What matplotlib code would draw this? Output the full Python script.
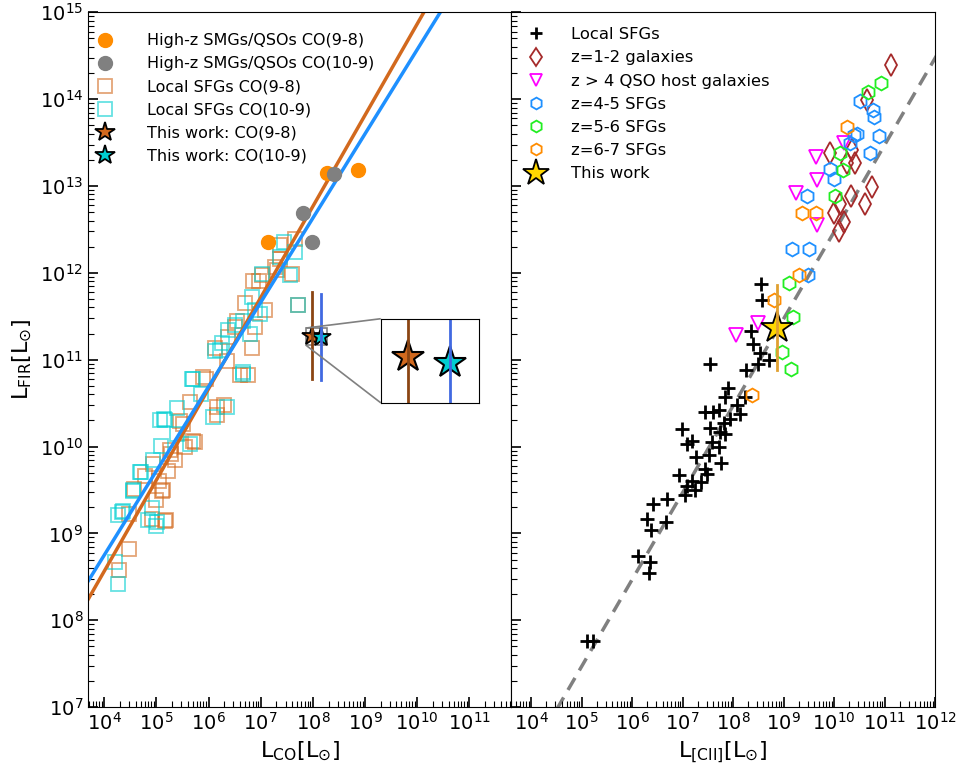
import numpy as np
import matplotlib
matplotlib.use("Agg")
import matplotlib.pyplot as plt
from matplotlib.ticker import LogLocator, NullFormatter
from mpl_toolkits.axes_grid1.inset_locator import mark_inset

# ---------------- left panel data (log10 L) ----------------
hiz98_logco = [7.14, 8.27, 8.87]
hiz98_logfir = [12.35, 13.15, 13.18]
hiz109_logco = [8.41, 7.82, 7.99]
hiz109_logfir = [13.14, 12.69, 12.35]

loc98_logco = [4.28, 4.47, 4.47, 4.58, 4.79, 4.91, 4.94, 4.99, 5.10, 5.16, 5.19, 5.23,
               5.29, 5.12, 5.26, 5.46, 5.52, 5.65, 5.71, 5.74, 5.90, 5.95, 6.16, 6.16,
               6.29, 6.35, 6.54, 6.61, 6.76, 6.70, 6.89, 6.83, 6.13, 6.38, 6.86, 7.02,
               7.08, 7.28, 7.31, 7.37, 7.37, 7.60, 7.66, 7.72, 6.96, 6.51, 5.35, 5.55, 5.05]
loc98_logfir = [8.58, 8.82, 9.22, 9.51, 9.66, 9.17, 9.80, 9.39, 9.49, 9.14, 9.15, 9.72,
                9.92, 9.50, 9.96, 10.30, 10.26, 10.51, 10.07, 10.05, 10.80, 10.78, 10.36, 10.46,
                10.48, 10.99, 11.45, 10.82, 10.82, 11.65, 11.38, 11.13, 11.13, 11.26, 11.91, 11.97,
                11.57, 12.07, 12.03, 12.16, 12.32, 11.99, 12.39, 11.63, 11.91, 11.38, 9.85, 10.00, 9.60]

loc109_logco = [4.20, 4.26, 4.27, 4.34, 4.36, 4.55, 4.56, 4.69, 4.71, 4.83, 4.91, 4.94,
                5.00, 5.01, 5.09, 5.07, 5.14, 5.17, 5.39, 5.65, 5.68, 5.71, 6.09, 6.22,
                6.25, 6.35, 6.38, 6.67, 6.67, 6.67, 6.83, 6.89, 6.99, 7.02, 7.37, 7.56,
                7.66, 7.72, 7.45, 6.80, 5.85, 5.40, 6.51, 6.13]
loc109_logfir = [8.67, 8.42, 9.21, 9.25, 9.26, 9.49, 9.50, 9.71, 9.71, 9.15, 9.29, 9.84,
                 9.09, 9.13, 10.01, 10.31, 10.32, 10.31, 10.44, 10.03, 10.78, 10.78, 10.34, 11.11,
                 11.19, 10.46, 11.34, 10.86, 11.45, 10.83, 11.72, 11.57, 11.53, 11.99, 12.18, 11.97,
                 12.24, 11.63, 12.35, 11.30, 10.60, 10.15, 11.40, 11.10]

tw98_logco, tw98_logfir = 7.98, 11.275
tw109_logco, tw109_logfir = 8.15, 11.26
tw98_logfir_lo, tw98_logfir_hi = 10.78, 11.78
tw109_logfir_lo, tw109_logfir_hi = 10.77, 11.76

# fitted relations: log LFIR = a * log LCO + b
fit98 = (1.05, 4.365)
fit109 = (0.97, 4.87)

# ---------------- right panel data (log10 L) ----------------
sfg_logcii = [8.55, 8.58, 8.36, 8.40, 8.53, 8.72, 8.49, 8.25, 7.54, 7.89, 7.84, 8.24,
              8.07, 8.14, 7.45, 7.61, 7.73, 7.93, 7.81, 7.54, 7.74, 7.84, 6.98, 7.18,
              7.08, 7.58, 7.73, 7.53, 7.27, 7.76, 7.45, 7.48, 6.92, 7.18, 7.08, 7.36,
              7.25, 7.05, 6.69, 6.41, 6.30, 6.67, 6.38, 6.11, 6.36, 6.34, 5.10, 5.22]
sfg_logfir = [11.87, 11.69, 11.33, 11.18, 11.08, 11.00, 10.95, 10.88, 10.95, 10.68, 10.57, 10.57,
              10.48, 10.38, 10.40, 10.40, 10.42, 10.32, 10.27, 10.21, 10.17, 10.15, 10.20, 10.06,
              10.03, 10.05, 9.99, 9.90, 9.88, 9.81, 9.74, 9.69, 9.67, 9.60, 9.55, 9.59,
              9.50, 9.44, 9.40, 9.34, 9.17, 9.13, 9.04, 8.74, 8.67, 8.55, 7.76, 7.76]

z12_logcii = [11.12, 10.66, 9.91, 10.35, 10.42, 10.25, 10.75, 10.34, 10.61, 10.12, 9.99, 10.19, 10.10]
z12_logfir = [14.39, 13.99, 13.38, 13.41, 13.26, 13.26, 12.99, 12.89, 12.79, 12.79, 12.69, 12.58, 12.48]

qso_logcii = [9.64, 9.66, 9.24, 9.67, 10.20, 8.49, 8.05]
qso_logfir = [13.33, 13.07, 12.92, 12.55, 13.49, 11.42, 11.28]

z45_logcii = [10.51, 10.78, 10.79, 10.89, 10.40, 10.45, 10.32, 10.71, 9.92, 10.00, 9.47, 9.16, 9.50, 9.49]
z45_logfir = [13.98, 13.88, 13.79, 13.58, 13.59, 13.60, 13.49, 13.38, 13.19, 13.08, 12.88, 12.28, 12.28, 11.98]

z56_logcii = [10.94, 10.67, 10.12, 10.18, 10.01, 9.10, 9.18, 8.96, 9.14]
z56_logfir = [14.18, 14.08, 13.38, 13.18, 12.89, 11.88, 11.49, 11.09, 10.89]

z67_logcii = [10.25, 9.36, 9.64, 9.31, 8.81, 8.38]
z67_logfir = [13.68, 12.69, 12.69, 11.98, 11.69, 10.59]

tw_logcii, tw_logfir = 8.87, 11.37
tw_logfir_lo, tw_logfir_hi = 10.88, 11.86

# local relation: log LFIR = log LCII + offset
cii_fit = (1.0, 2.47)

# tick decades
left_xdec = range(4, 12)
right_xdec = range(4, 13)
ydec = range(7, 16)


def p(v):
    return 10 ** np.asarray(v, dtype=float)


fig = plt.figure(figsize=(9.57, 7.67), dpi=100)
ax1 = fig.add_axes([0.092, 0.078, 0.442, 0.906])
ax2 = fig.add_axes([0.534, 0.078, 0.443, 0.906], sharey=ax1)

# ---- left panel ----
ax1.plot(p(hiz98_logco), p(hiz98_logfir), 'o', color='darkorange', ms=10, ls='none',
         label='High-z SMGs/QSOs CO(9-8)', zorder=3)
ax1.plot(p(hiz109_logco), p(hiz109_logfir), 'o', color='grey', ms=10, ls='none',
         label='High-z SMGs/QSOs CO(10-9)', zorder=3)
ax1.plot(p(loc98_logco), p(loc98_logfir), 's', mfc='none', mec='#D2691E', alpha=0.6,
         ms=10, mew=1.3, ls='none', label='Local SFGs CO(9-8)')
ax1.plot(p(loc109_logco), p(loc109_logfir), 's', mfc='none', mec='#00CED1', alpha=0.6,
         ms=10, mew=1.3, ls='none', label='Local SFGs CO(10-9)')

xx = np.linspace(3.5, 12, 50)
ax1.plot(p(xx), p(fit98[0] * xx + fit98[1]), color='#D2691E', lw=2.5, zorder=2)
ax1.plot(p(xx), p(fit109[0] * xx + fit109[1]), color='#1E90FF', lw=2.5, zorder=2)

ax1.plot(p(tw98_logco), p(tw98_logfir), '*', color='#D2691E', mec='k', mew=1.3, ms=15,
         ls='none', label='This work: CO(9-8)', zorder=4)
ax1.plot(p(tw109_logco), p(tw109_logfir), '*', color='#00CED1', mec='k', mew=1.3, ms=15,
         ls='none', label='This work: CO(10-9)', zorder=4)
ax1.plot([p(tw98_logco)] * 2, [p(tw98_logfir_lo), p(tw98_logfir_hi)], color='#8B4513', lw=2, zorder=5)
ax1.plot([p(tw109_logco)] * 2, [p(tw109_logfir_lo), p(tw109_logfir_hi)], color='#4169E1', lw=2, zorder=5)

ax1.set_xscale('log')
ax1.set_yscale('log')
ax1.set_xlim(10 ** 3.69, 10 ** 11.8)
ax1.set_ylim(1e7, 1e15)
ax1.set_xticks([10.0 ** k for k in left_xdec])
ax1.set_xlabel(r'$\mathrm{L_{CO}[L_{\odot}]}$', fontsize=16)
ax1.set_ylabel(r'$\mathrm{L_{FIR}[L_{\odot}]}$', fontsize=16)
ax1.legend(loc='upper left', bbox_to_anchor=(-0.003, 0.979), borderaxespad=0,
           frameon=False, fontsize=11.5, handlelength=1.5, handletextpad=1.9,
           labelspacing=0.5)

# inset zoom on the two stars
axins = ax1.inset_axes([0.692, 0.438, 0.233, 0.121])
axins.plot(p(tw98_logco), p(tw98_logfir), '*', color='#D2691E', mec='k', mew=1.5, ms=24)
axins.plot(p(tw109_logco), p(tw109_logfir), '*', color='#00CED1', mec='k', mew=1.5, ms=24)
axins.plot([p(tw98_logco)] * 2, [p(tw98_logfir_lo), p(tw98_logfir_hi)], color='#8B4513', lw=2)
axins.plot([p(tw109_logco)] * 2, [p(tw109_logfir_lo), p(tw109_logfir_hi)], color='#4169E1', lw=2)
axins.set_xscale('log')
axins.set_yscale('log')
axins.set_xlim(10 ** 7.87, 10 ** 8.27)
axins.set_ylim(10 ** 11.166, 10 ** 11.365)
axins.xaxis.set_major_locator(plt.NullLocator())
axins.xaxis.set_minor_locator(plt.NullLocator())
axins.yaxis.set_major_locator(plt.NullLocator())
axins.yaxis.set_minor_locator(plt.NullLocator())
mark_inset(ax1, axins, loc1=2, loc2=3, fc='none', ec='0.5', lw=1.2)

# ---- right panel ----
ax2.plot(p(sfg_logcii), p(sfg_logfir), '+', color='k', ms=10, mew=2, ls='none', label='Local SFGs')
ax2.plot(p(z12_logcii), p(z12_logfir), 'd', mfc='none', mec='#A52A2A', ms=11, mew=1.3, ls='none',
         label='z=1-2 galaxies')
ax2.plot(p(qso_logcii), p(qso_logfir), 'v', mfc='none', mec='magenta', ms=10, mew=1.3, ls='none',
         label='z > 4 QSO host galaxies')
ax2.plot(p(z45_logcii), p(z45_logfir), 'h', mfc='none', mec='#1E90FF', ms=10, mew=1.3, ls='none',
         label='z=4-5 SFGs')
ax2.plot(p(z56_logcii), p(z56_logfir), 'h', mfc='none', mec='#22EE22', ms=10, mew=1.3, ls='none',
         label='z=5-6 SFGs')
ax2.plot(p(z67_logcii), p(z67_logfir), 'h', mfc='none', mec='darkorange', ms=10, mew=1.3, ls='none',
         label='z=6-7 SFGs')
xc = np.linspace(3.5, 12.2, 50)
ax2.plot(p(xc), p(cii_fit[0] * xc + cii_fit[1]), '--', color='grey', lw=2.5, dashes=(4, 2.5), zorder=1)
ax2.plot(p(tw_logcii), p(tw_logfir), '*', color='gold', mec='k', mew=1.3, ms=24, ls='none',
         label='This work', zorder=4)
ax2.plot([p(tw_logcii)] * 2, [p(tw_logfir_lo), p(tw_logfir_hi)], color='#E0A030', lw=2, zorder=5)

ax2.set_xscale('log')
ax2.set_xlim(10 ** 3.6, 1e12)
ax2.set_xticks([10.0 ** k for k in right_xdec])
ax2.set_xlabel(r'$\mathrm{L_{[CII]}[L_{\odot}]}$', fontsize=16)
ax2.tick_params(labelleft=False)
ax2.legend(loc='upper left', bbox_to_anchor=(0.014, 0.988), borderaxespad=0,
           frameon=False, fontsize=11.8, handlelength=1.5, handletextpad=1.4,
           labelspacing=0.5, markerscale=0.85)

ax1.set_yticks([10.0 ** k for k in ydec])
for ax in (ax1, ax2):
    ax.xaxis.set_minor_locator(LogLocator(base=10, subs=np.arange(2, 10), numticks=100))
    ax.xaxis.set_minor_formatter(NullFormatter())
    ax.yaxis.set_minor_locator(LogLocator(base=10, subs=np.arange(2, 10), numticks=100))
    ax.yaxis.set_minor_formatter(NullFormatter())
    ax.tick_params(which='both', direction='in', top=False, right=False, labelsize=14)
    ax.tick_params(which='major', length=7, width=1.2)
    ax.tick_params(which='minor', length=4, width=0.8)
ax1.set_ylim(1e7, 1e15)

fig.savefig('out.png', dpi=100)
